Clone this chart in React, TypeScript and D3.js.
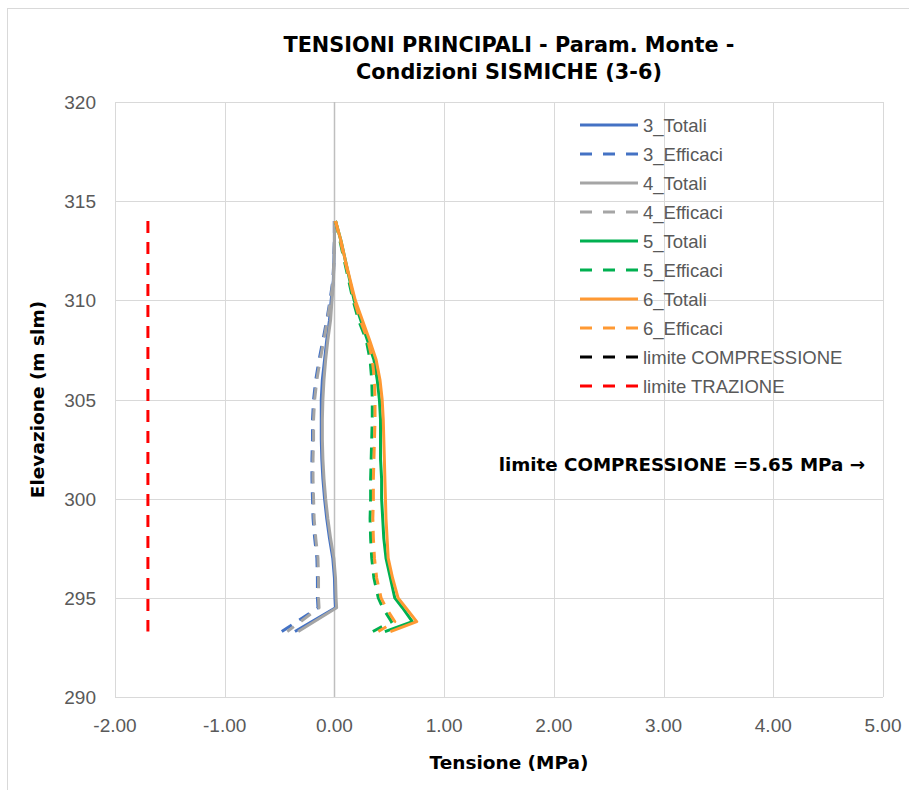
import React, { useEffect, useRef } from "react";
import * as d3 from "d3";

const elevations = [314, 313, 312, 311, 310, 309, 308, 307, 306, 305, 304, 303, 302, 301, 300, 299, 298, 297, 296, 295, 294.5, 293.8, 293.3];

const s3Totali = [0, 0, -0.005, -0.01, -0.03, -0.045, -0.07, -0.09, -0.11, -0.12, -0.12, -0.12, -0.115, -0.105, -0.09, -0.07, -0.045, -0.015, 0, 0.005, 0.01, null, -0.36];
const s3Efficaci = [0, 0, -0.005, -0.015, -0.04, -0.07, -0.105, -0.14, -0.17, -0.19, -0.2, -0.2, -0.205, -0.205, -0.2, -0.195, -0.18, -0.16, -0.155, -0.155, -0.15, null, -0.48];
const s4Totali = [0, 0, -0.003, -0.008, -0.022, -0.035, -0.06, -0.08, -0.095, -0.105, -0.11, -0.11, -0.105, -0.095, -0.08, -0.06, -0.035, -0.005, 0.01, 0.015, 0.02, null, -0.33];
const s4Efficaci = [0, 0, -0.004, -0.012, -0.035, -0.065, -0.095, -0.13, -0.16, -0.18, -0.19, -0.19, -0.195, -0.195, -0.19, -0.185, -0.17, -0.15, -0.145, -0.145, -0.14, null, -0.43];
const s5Totali = [0.01, 0.06, 0.1, 0.14, 0.18, 0.24, 0.3, 0.36, 0.39, 0.41, 0.42, 0.42, 0.42, 0.43, 0.43, 0.44, 0.45, 0.47, 0.51, 0.55, 0.62, 0.71, 0.46];
const s5Efficaci = [0.01, 0.05, 0.09, 0.13, 0.17, 0.22, 0.29, 0.325, 0.34, 0.345, 0.345, 0.34, 0.335, 0.33, 0.33, 0.325, 0.33, 0.34, 0.36, 0.4, 0.44, 0.52, 0.35];
const s6Totali = [0.01, 0.06, 0.1, 0.145, 0.19, 0.255, 0.32, 0.38, 0.415, 0.435, 0.445, 0.45, 0.455, 0.46, 0.465, 0.47, 0.48, 0.49, 0.53, 0.58, 0.65, 0.75, 0.51];
const s6Efficaci = [0.01, 0.055, 0.095, 0.14, 0.18, 0.235, 0.305, 0.345, 0.365, 0.37, 0.37, 0.365, 0.36, 0.355, 0.355, 0.35, 0.355, 0.365, 0.385, 0.425, 0.47, 0.55, 0.4];

const limitElevations = [314, 293.3];
const limiteCompressione = [5.65, 5.65];
const limiteTrazione = [-1.7, -1.7];

const seriesNames = ["3_Totali", "3_Efficaci", "4_Totali", "4_Efficaci", "5_Totali", "5_Efficaci", "6_Totali", "6_Efficaci", "limite COMPRESSIONE", "limite TRAZIONE"];
const seriesColors = ["#4472C4", "#4472C4", "#A5A5A5", "#A5A5A5", "#00B050", "#00B050", "#FF9933", "#FF9933", "#000000", "#FF0000"];
const seriesDashed = [false, true, false, true, false, true, false, true, true, true];

const xTicks = [-2, -1, 0, 1, 2, 3, 4, 5];
const yTicks = [290, 295, 300, 305, 310, 315, 320];

const titleLines = ["TENSIONI PRINCIPALI - Param. Monte -", "Condizioni SISMICHE (3-6)"];
const xTitle = "Tensione (MPa)";
const yTitle = "Elevazione (m slm)";
const annotation = "limite COMPRESSIONE =5.65 MPa \u2192";

const W = 909;
const H = 790;
const FONT = "'Liberation Sans', Arial, sans-serif";
const BOLD_FONT = "'DejaVu Sans', Verdana, sans-serif";

export default function App() {
  const ref = useRef<SVGSVGElement | null>(null);

  useEffect(() => {
    const svg = d3.select(ref.current);
    svg.selectAll("*").remove();

    const left = 115, right = 883, top = 102, bottom = 697;
    const x = d3.scaleLinear().domain([-2, 5]).range([left, right]);
    const y = d3.scaleLinear().domain([290, 320]).range([bottom, top]);

    svg.append("rect").attr("x", 0).attr("y", 0).attr("width", W).attr("height", H).attr("fill", "#fff");
    svg.append("rect").attr("x", 7.5).attr("y", 8.5).attr("width", 1200).attr("height", 1200)
      .attr("fill", "none").attr("stroke", "#D9D9D9").attr("stroke-width", 1);

    const defs = svg.append("defs");
    defs.append("clipPath").attr("id", "plotclip").append("rect")
      .attr("x", left).attr("y", top).attr("width", right - left).attr("height", bottom - top);

    // gridlines
    const grid = svg.append("g");
    xTicks.forEach((t) => {
      if (t === 0) return;
      grid.append("line").attr("x1", Math.round(x(t)) + 0.5).attr("x2", Math.round(x(t)) + 0.5)
        .attr("y1", top).attr("y2", bottom).attr("stroke", "#D9D9D9").attr("stroke-width", 1);
    });
    yTicks.forEach((t) => {
      grid.append("line").attr("x1", left).attr("x2", right)
        .attr("y1", Math.round(y(t)) + 0.5).attr("y2", Math.round(y(t)) + 0.5)
        .attr("stroke", "#D9D9D9").attr("stroke-width", 1);
    });
    // zero axis
    grid.append("line").attr("x1", Math.round(x(0)) + 0.5).attr("x2", Math.round(x(0)) + 0.5)
      .attr("y1", top).attr("y2", bottom).attr("stroke", "#BFBFBF").attr("stroke-width", 1.5);

    // tick labels
    const fmt = (v: number) => d3.format(".2f")(v).replace("\u2212", "-");
    const tl = svg.append("g").attr("font-family", FONT).attr("font-size", 19).attr("fill", "#595959");
    xTicks.forEach((t) => {
      tl.append("text").attr("x", x(t)).attr("y", 732).attr("text-anchor", "middle").text(fmt(t));
    });
    yTicks.forEach((t) => {
      tl.append("text").attr("x", 96).attr("y", y(t) + 7).attr("text-anchor", "end").text(String(t));
    });

    // series
    const allSeries = [s3Totali, s3Efficaci, s4Totali, s4Efficaci, s5Totali, s5Efficaci, s6Totali, s6Efficaci];
    const line = d3.line<[number, number]>().x((d) => x(d[0])).y((d) => y(d[1]));
    const plot = svg.append("g").attr("clip-path", "url(#plotclip)");
    const drawSeries = (vals: (number | null)[], elevs: number[], i: number) => {
      const pts: [number, number][] = [];
      vals.forEach((v, k) => { if (v !== null) pts.push([v, elevs[k]]); });
      plot.append("path").attr("d", line(pts) as string).attr("fill", "none")
        .attr("stroke", seriesColors[i]).attr("stroke-width", 3)
        .attr("stroke-linejoin", "round")
        .attr("stroke-dasharray", seriesDashed[i] ? "12,9" : null);
    };
    allSeries.forEach((s, i) => drawSeries(s, elevations, i));
    drawSeries(limiteCompressione, limitElevations, 8);
    drawSeries(limiteTrazione, limitElevations, 9);

    // legend
    const lg = svg.append("g");
    seriesNames.forEach((name, i) => {
      const cy = 125 + i * 29;
      lg.append("line").attr("x1", 580).attr("x2", 638).attr("y1", cy).attr("y2", cy)
        .attr("stroke", seriesColors[i]).attr("stroke-width", 3)
        .attr("stroke-dasharray", seriesDashed[i] ? "12,11" : null);
      lg.append("text").attr("x", 643).attr("y", cy + 6.5).attr("font-family", FONT)
        .attr("font-size", 18.5).attr("fill", "#595959").text(name);
    });

    // titles
    const tt = svg.append("g").attr("font-family", BOLD_FONT).attr("font-weight", "bold").attr("fill", "#000");
    tt.append("text").attr("x", 509).attr("y", 52).attr("text-anchor", "middle").attr("font-size", 20.8).text(titleLines[0]);
    tt.append("text").attr("x", 509).attr("y", 79).attr("text-anchor", "middle").attr("font-size", 20.8).text(titleLines[1]);
    tt.append("text").attr("x", 509).attr("y", 769).attr("text-anchor", "middle").attr("font-size", 18.5).text(xTitle);
    tt.append("text").attr("transform", `translate(44, ${(top + bottom) / 2}) rotate(-90)`)
      .attr("text-anchor", "middle").attr("font-size", 18.5).text(yTitle);
    tt.append("text").attr("x", 865).attr("y", 471).attr("text-anchor", "end").attr("font-size", 18.3).text(annotation);
  }, []);

  return (
    <svg ref={ref} width={W} height={H} style={{ position: "absolute", left: 0, top: 0, display: "block" }} />
  );
}
